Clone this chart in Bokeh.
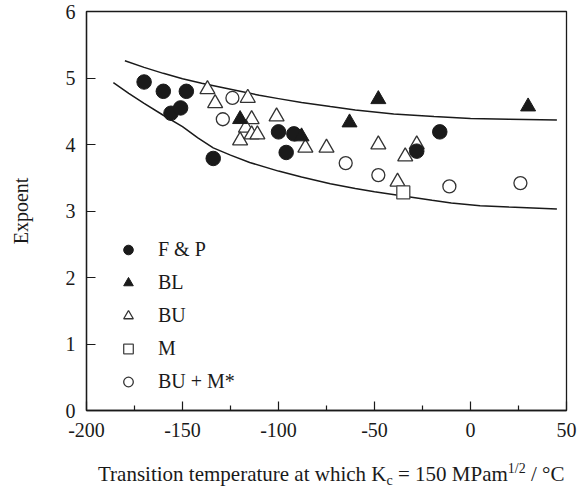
from bokeh.plotting import figure
from bokeh.layouts import column
from bokeh.models import Range1d, FixedTicker, Legend, LegendItem, Div
from bokeh.embed import file_html
from bokeh.resources import INLINE

# ---- data ----
fp_x = [-170, -160, -148, -156, -151, -134, -100, -92, -96, -16, -28]
fp_y = [4.94, 4.80, 4.80, 4.47, 4.55, 3.79, 4.19, 4.16, 3.88, 4.19, 3.90]

bl_x = [-120, -88, -63, -48, 30]
bl_y = [4.38, 4.12, 4.33, 4.68, 4.57]

bu_x = [-137, -133, -116, -114, -117, -120, -114, -111, -101, -86, -75, -48, -34, -28, -38]
bu_y = [4.83, 4.62, 4.70, 4.38, 4.25, 4.06, 4.15, 4.15, 4.42, 3.95, 3.95, 4.00, 3.82, 4.00, 3.44]

m_x = [-35]
m_y = [3.28]

bum_x = [-124, -129, -65, -48, -11, 26]
bum_y = [4.70, 4.38, 3.72, 3.54, 3.37, 3.42]

upper_x = [-180, -170, -160, -150, -140, -130, -120, -110, -100, -88, -73, -60, -40, -19, 0, 20, 45]
upper_y = [5.26, 5.16, 5.07, 4.99, 4.92, 4.86, 4.80, 4.74, 4.69, 4.63, 4.57, 4.52, 4.46, 4.42, 4.39, 4.38, 4.37]

lower_x = [-186, -178, -170, -160, -150, -142, -134, -125, -115, -100, -88, -73, -60, -50, -36, -20, -10, 5, 20, 45]
lower_y = [4.93, 4.77, 4.62, 4.44, 4.27, 4.10, 3.95, 3.84, 3.73, 3.60, 3.51, 3.41, 3.34, 3.29, 3.23, 3.16, 3.12, 3.08, 3.06, 3.03]

x_ticks = [-200, -150, -100, -50, 0, 50]
x_tick_labels = ["-200", "-150", "-100", "-50", "0", "50"]
x_minor = [-175, -125, -75, -25, 25]
y_ticks = [0, 1, 2, 3, 4, 5, 6]

legend_labels = ["F & P", "BL", "BU", "M", "BU + M*"]
x_label_parts = ["Transition temperature at which K", "c", " = 150 MPam", "1/2", " / \u00b0C"]
y_label = "Expoent"

FONT = "Liberation Serif"
DARK = "#1a1a1a"

p = figure(width=588, height=450, output_backend="svg", toolbar_location=None,
           x_range=Range1d(-200, 50), y_range=Range1d(0, 6),
           min_border_left=86, min_border_right=22, min_border_top=11, min_border_bottom=40)
p.title = None
p.grid.visible = False
p.outline_line_color = DARK
p.outline_line_width = 1.3
p.background_fill_color = "white"
p.border_fill_color = "white"

for ax in (p.xaxis[0], p.yaxis[0]):
    ax.axis_line_color = DARK
    ax.axis_line_width = 1.3
    ax.major_tick_line_color = DARK
    ax.minor_tick_line_color = DARK
    ax.major_tick_line_width = 1.2
    ax.minor_tick_line_width = 1.2
    ax.major_tick_in = 9
    ax.major_tick_out = 0
    ax.minor_tick_in = 5
    ax.minor_tick_out = 0
    ax.major_label_text_font = FONT
    ax.major_label_text_font_size = "20px"
    ax.major_label_text_color = DARK

p.xaxis[0].ticker = FixedTicker(ticks=x_ticks, minor_ticks=x_minor)
p.xaxis[0].major_label_overrides = {t: l for t, l in zip(x_ticks, x_tick_labels)}
p.xaxis[0].major_label_standoff = 12
p.yaxis[0].ticker = FixedTicker(ticks=y_ticks, minor_ticks=[])
p.yaxis[0].major_label_standoff = 11
p.yaxis[0].axis_label = y_label
p.yaxis[0].axis_label_text_font = FONT
p.yaxis[0].axis_label_text_font_size = "20px"
p.yaxis[0].axis_label_text_font_style = "normal"
p.yaxis[0].axis_label_text_color = DARK
p.yaxis[0].axis_label_standoff = 31

# envelope curves
p.line(upper_x, upper_y, line_color=DARK, line_width=1.5)
p.line(lower_x, lower_y, line_color=DARK, line_width=1.5)

r_bu = p.scatter(bu_x, bu_y, marker="triangle", size=15, fill_color="white",
                 line_color="#333333", line_width=1.3)
r_bum = p.scatter(bum_x, bum_y, marker="circle", size=13, fill_color="white",
                  line_color="#333333", line_width=1.3)
r_m = p.scatter(m_x, m_y, marker="square", size=13, fill_color="white",
                line_color="#444444", line_width=1.3)
r_fp = p.scatter(fp_x, fp_y, marker="circle", size=14.5, fill_color=DARK, line_color=DARK)
r_bl = p.scatter(bl_x, bl_y, marker="triangle", size=15, fill_color=DARK, line_color=DARK)

legend = Legend(items=[LegendItem(label=legend_labels[0], renderers=[r_fp]),
                       LegendItem(label=legend_labels[1], renderers=[r_bl]),
                       LegendItem(label=legend_labels[2], renderers=[r_bu]),
                       LegendItem(label=legend_labels[3], renderers=[r_m]),
                       LegendItem(label=legend_labels[4], renderers=[r_bum])],
                location=(30, 12), padding=0, spacing=0, margin=0,
                glyph_width=24, glyph_height=33, label_height=33, label_standoff=18,
                label_text_font=FONT, label_text_font_size="20px", label_text_color=DARK,
                border_line_color=None, background_fill_alpha=0)
p.add_layout(legend, "center")

# x axis label as an HTML strip below the plot (sub- and superscripts)
html = (
    '<div style="font-family:\'Liberation Serif\',serif;font-size:21px;color:#1a1a1a;'
    'white-space:nowrap;padding-left:98px;padding-top:12px;line-height:24px;">'
    f'{x_label_parts[0]}'
    f'<span style="font-size:14px;position:relative;top:4px;">{x_label_parts[1]}</span>'
    f'{x_label_parts[2]}'
    f'<span style="font-size:14px;position:relative;top:-8px;">{x_label_parts[3]}</span>'
    f'{x_label_parts[4]}'
    '</div>'
)
label_div = Div(text=html, width=588, height=38, margin=0, styles={"padding": "0", "margin": "0"})

layout = column(p, label_div, spacing=0)
open("out.html", "w").write(file_html(layout, INLINE))
